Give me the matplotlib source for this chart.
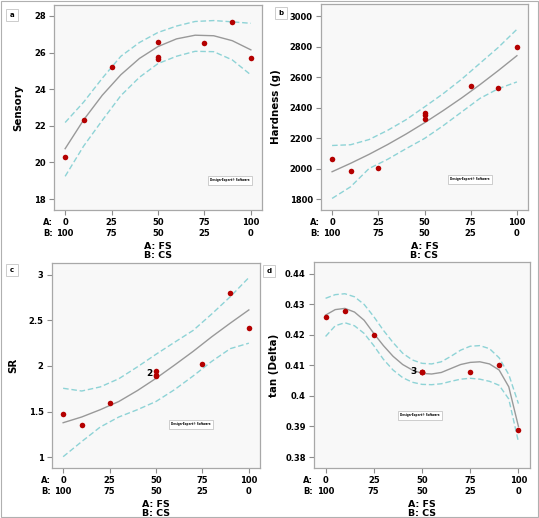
import numpy as np
import matplotlib
matplotlib.use('Agg')
import matplotlib.pyplot as plt
from matplotlib.patches import Rectangle

plt.rcParams['font.family'] = ['DejaVu Sans']
plt.rcParams['font.weight'] = 'bold'

# mezcla A: FS / B: CS
x_pts = [0, 10, 25, 50, 50, 50, 75, 90, 100]
x_fit = [0, 10, 20, 30, 40, 50, 60, 70, 80, 90, 100]
x_fit_d = [0, 5, 10, 15, 20, 25, 30, 35, 40, 45, 50, 55, 60, 65, 70, 75, 80, 85, 90, 95, 100]

# a) Sensory
sens_pts = [20.3, 22.3, 25.2, 26.6, 25.75, 25.65, 26.5, 27.65, 25.7]
sens_fit = [20.75, 22.33, 23.67, 24.79, 25.68, 26.33, 26.75, 26.95, 26.92, 26.65, 26.15]
sens_hi = [22.18, 23.3, 24.6, 25.8, 26.55, 27.1, 27.45, 27.7, 27.75, 27.68, 27.6]
sens_lo = [19.24, 20.9, 22.3, 23.65, 24.65, 25.4, 25.8, 26.07, 26.05, 25.6, 24.78]

# b) Hardness
hard_pts = [2064, 1981, 2003, 2363, 2348, 2328, 2544, 2531, 2795]
hard_fit = [1979, 2034, 2093, 2157, 2226, 2300, 2379, 2462, 2550, 2643, 2740]
hard_hi = [2151, 2156, 2190, 2250, 2320, 2404, 2490, 2585, 2690, 2795, 2913]
hard_lo = [1804, 1880, 2000, 2060, 2130, 2197, 2280, 2370, 2460, 2524, 2568]

# c) SR
sr_pts = [1.47, 1.35, 1.59, 1.94, 1.90, 1.89, 2.02, 2.80, 2.42]
sr_fit = [1.377, 1.44, 1.52, 1.61, 1.73, 1.864, 2.01, 2.16, 2.32, 2.47, 2.615]
sr_hi = [1.755, 1.725, 1.77, 1.86, 1.99, 2.128, 2.26, 2.39, 2.57, 2.76, 2.97]
sr_lo = [1.004, 1.17, 1.33, 1.44, 1.52, 1.61, 1.74, 1.89, 2.05, 2.19, 2.25]

# d) tan (Delta)
tan_pts = [0.426, 0.428, 0.420, 0.408, 0.408, 0.408, 0.408, 0.410, 0.389]
tan_fit = [0.4265, 0.4283, 0.4287, 0.4275, 0.4248, 0.4205, 0.4165, 0.4130, 0.4103, 0.4085, 0.4074,
           0.4072, 0.4077, 0.4090, 0.4103, 0.4110, 0.4112, 0.4105, 0.4085, 0.4030, 0.3900]
tan_hi = [0.4320, 0.4332, 0.4335, 0.4325, 0.4300, 0.4260, 0.4215, 0.4175, 0.4140, 0.4118, 0.4107,
          0.4105, 0.4112, 0.4130, 0.4150, 0.4163, 0.4165, 0.4155, 0.4125, 0.4070, 0.3975]
tan_lo = [0.4195, 0.4230, 0.4240, 0.4230, 0.4205, 0.4165, 0.4120, 0.4085, 0.4060, 0.4045, 0.4038,
          0.4037, 0.4040, 0.4048, 0.4055, 0.4058, 0.4055, 0.4048, 0.4035, 0.3990, 0.3850]

xticks = [0, 25, 50, 75, 100]
xtick_labels = ['0\n100', '25\n75', '50\n50', '75\n25', '100\n0']

W, H = 539, 518
fig = plt.figure(figsize=(W / 100, H / 100), dpi=100)
fig.patch.set_facecolor('white')

TICK_FS = 6.0
TICK_LS = 1.25


def px_axes(x0, y0, x1, y1):
    return fig.add_axes([x0 / W, 1 - y1 / H, (x1 - x0) / W, (y1 - y0) / H])


def panel(rect, xf, fit, hi, lo, pts, ylim, yticks, ylabels, ylabel, ylab_x, letter, letter_xy, note_xy):
    ax = px_axes(*rect)
    ax.set_facecolor('#f8f8f8')
    ax.plot(xf, fit, color='#999999', lw=1.0, zorder=2)
    ax.plot(xf, hi, color='#8ed3d6', lw=1.0, ls=(0, (4, 2)), zorder=2)
    ax.plot(xf, lo, color='#8ed3d6', lw=1.0, ls=(0, (4, 2)), zorder=2)
    ax.scatter(x_pts, pts, s=16, color='#b40000', zorder=3, linewidths=0)
    ax.set_xlim(-6, 106)
    ax.set_ylim(*ylim)
    ax.set_xticks(xticks)
    ax.set_xticklabels(xtick_labels, fontsize=TICK_FS, fontweight='bold', linespacing=TICK_LS)
    ax.set_yticks(yticks)
    ax.set_yticklabels(ylabels, fontsize=TICK_FS, fontweight='bold')
    ax.tick_params(colors='#8c8c8c', labelcolor='black', length=3.5, width=0.8, pad=2.5)
    for s in ax.spines.values():
        s.set_color('#a8a8a8')
        s.set_linewidth(0.9)
    ax.annotate('A:\nB:', xy=(-0.028, 0), xycoords='axes fraction', xytext=(0, -6),
                textcoords='offset points', ha='center', va='top',
                fontsize=TICK_FS, fontweight='bold', linespacing=TICK_LS)
    ax.set_xlabel('A: FS\nB: CS', fontsize=6.8, fontweight='bold', labelpad=2.5, linespacing=1.0)
    fig.text(ylab_x / W, 1 - (rect[1] + rect[3]) / 2 / H, ylabel, rotation=90, ha='center',
             va='center', fontsize=7.4, fontweight='bold')
    fig.text(letter_xy[0] / W, 1 - letter_xy[1] / H, letter, fontsize=5, fontweight='bold',
             ha='center', va='center',
             bbox=dict(boxstyle='square,pad=0.5', fc='white', ec='#cccccc', lw=0.7))
    ax.text(note_xy[0] / W, 1 - note_xy[1] / H, 'Design-Expert\u00ae Software', transform=fig.transFigure,
            fontsize=2.0, ha='center', va='center',
            bbox=dict(boxstyle='square,pad=0.9', fc='white', ec='#bbbbbb', lw=0.5))
    return ax


panel((54, 5, 262, 210), x_fit, sens_fit, sens_hi, sens_lo, sens_pts, (17.4, 28.6),
      [18, 20, 22, 24, 26, 28], ['18', '20', '22', '24', '26', '28'], 'Sensory', 18, 'a', (12, 15), (230, 180))

panel((321, 4, 528, 210), x_fit, hard_fit, hard_hi, hard_lo, hard_pts, (1728, 3079),
      [1800, 2000, 2200, 2400, 2600, 2800, 3000],
      ['1800', '2000', '2200', '2400', '2600', '2800', '3000'], 'Hardness (g)', 276, 'b', (281, 13), (470, 179))

ax_c = panel((52, 263, 260, 468), x_fit, sr_fit, sr_hi, sr_lo, sr_pts, (0.88, 3.13),
             [1, 1.5, 2, 2.5, 3], ['1', '1.5', '2', '2.5', '3'], 'SR', 13, 'c', (12, 270), (191, 424))
ax_c.text(48, 1.915, '2', fontsize=6.5, fontweight='bold', ha='right', va='center')

ax_d = panel((314, 262, 530, 468), x_fit_d, tan_fit, tan_hi, tan_lo, tan_pts, (0.3764, 0.4439),
             [0.38, 0.39, 0.4, 0.41, 0.42, 0.43, 0.44],
             ['0.38', '0.39', '0.4', '0.41', '0.42', '0.43', '0.44'], 'tan (Delta)', 274, 'd', (269, 271), (420, 415))
ax_d.text(47, 0.408, '3', fontsize=6.5, fontweight='bold', ha='right', va='center')

fig.add_artist(Rectangle((0.001, 0.001), 0.997, 0.997, transform=fig.transFigure,
                         fill=False, ec='#b0b0b0', lw=0.8))

fig.savefig('out.png', dpi=100)
